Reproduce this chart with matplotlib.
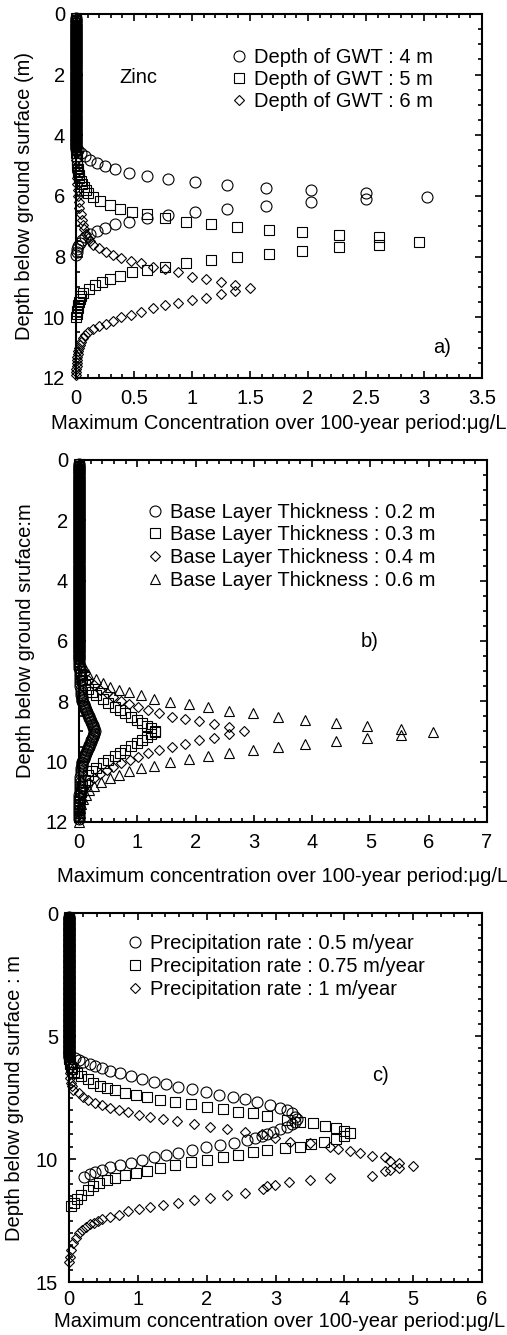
import matplotlib
matplotlib.use('Agg')
import matplotlib.pyplot as plt
from matplotlib.ticker import MultipleLocator, FormatStrFormatter

plt.rcParams['font.family'] = ['Liberation Sans', 'DejaVu Sans']
plt.rcParams['font.size'] = 14.5

# near-surface depths where every profile sits at zero concentration (m)
surface_depth = [0.15, 0.2, 0.25, 0.3, 0.35, 0.4, 0.45, 0.5, 0.55, 0.6, 0.65, 0.7,
                 0.75, 0.8, 0.85, 0.9, 0.95, 1.0, 1.05, 1.1, 1.15, 1.2, 1.25, 1.3,
                 1.35, 1.4, 1.45, 1.5, 1.55, 1.6, 1.65, 1.7, 1.75, 1.8, 1.85, 1.9,
                 1.95, 2.0, 2.05, 2.1, 2.15, 2.2, 2.25, 2.3, 2.35, 2.4, 2.45, 2.5,
                 2.55, 2.6, 2.65, 2.7, 2.75, 2.8, 2.85, 2.9, 2.95, 3.0, 3.05, 3.1,
                 3.15, 3.2, 3.25, 3.3, 3.35, 3.4, 3.45, 3.5, 3.55, 3.6, 3.65, 3.7,
                 3.75, 3.8, 3.85, 3.9, 3.95, 4.0, 4.05, 4.1, 4.15, 4.2, 4.25, 4.3,
                 4.35, 4.4, 4.45, 4.5, 4.55, 4.6, 4.65, 4.7, 4.75, 4.8, 4.85, 4.9,
                 4.95, 5.0, 5.05, 5.1, 5.15, 5.2, 5.25, 5.3, 5.35, 5.4, 5.45, 5.5,
                 5.55, 5.6, 5.65, 5.7, 5.75, 5.8, 5.85, 5.9, 5.95, 6.0, 6.05, 6.1,
                 6.15, 6.2, 6.25, 6.3, 6.35, 6.4, 6.45, 6.5, 6.55]

# a) depth of ground water table
gwt4_depth = [4.5, 4.6, 4.7, 4.81, 4.92, 5.03, 5.12, 5.23, 5.34, 5.43, 5.53, 5.64,
              5.73, 5.81, 5.89, 6.04, 6.11, 6.19, 6.32, 6.43, 6.52, 6.63, 6.72,
              6.85, 6.93, 7.07, 7.15, 7.26, 7.36, 7.46, 7.56, 7.66, 7.76, 7.86, 7.96]
gwt4_conc = [0.02, 0.045, 0.078, 0.12, 0.18, 0.25, 0.34, 0.46, 0.61, 0.79, 1.03, 1.30,
             1.64, 2.03, 2.50, 3.03, 2.50, 2.03, 1.64, 1.30, 1.03, 0.79, 0.61,
             0.46, 0.34, 0.25, 0.18, 0.12, 0.08, 0.05, 0.035, 0.02, 0.012, 0.006, 0.0]
gwt5_depth = [4.6, 4.7, 4.8, 4.9, 5.0, 5.1, 5.2, 5.3, 5.4, 5.5, 5.6, 5.7, 5.8,
              5.91, 6.02, 6.17, 6.30, 6.43, 6.52, 6.61, 6.74, 6.85, 6.93, 7.03, 7.12,
              7.18, 7.29, 7.36, 7.53, 7.62, 7.69, 7.80, 7.92, 8.03, 8.11, 8.22, 8.33,
              8.44, 8.50, 8.63, 8.74, 8.83, 8.93, 9.07, 9.21, 9.3, 9.4, 9.5, 9.6,
              9.7, 9.8, 9.9, 10.0]
gwt5_conc = [0.0, 0.005, 0.005, 0.01, 0.01, 0.015, 0.02, 0.025, 0.03, 0.04, 0.05, 0.065, 0.085,
             0.106, 0.15, 0.21, 0.29, 0.38, 0.48, 0.61, 0.77, 0.95, 1.16, 1.39, 1.66,
             1.95, 2.27, 2.61, 2.96, 2.61, 2.27, 1.95, 1.66, 1.39, 1.16, 0.95, 0.77,
             0.61, 0.48, 0.38, 0.29, 0.22, 0.16, 0.11, 0.06, 0.045, 0.035, 0.025, 0.02,
             0.015, 0.01, 0.005, 0.0]
gwt6_depth = [4.6, 4.8, 5.0, 5.2, 5.4, 5.6, 5.8, 6.0, 6.2, 6.4, 6.6, 6.8, 6.95, 7.1,
              7.25, 7.38, 7.5, 7.62, 7.73, 7.86, 7.95, 8.06, 8.14, 8.20, 8.33, 8.41,
              8.50, 8.66, 8.74, 8.83, 8.93, 9.04, 9.15, 9.22, 9.35, 9.42, 9.53, 9.61,
              9.70, 9.82, 9.91, 10.0, 10.13, 10.22, 10.29, 10.4, 10.5, 10.6, 10.7,
              10.8, 10.9, 11.0, 11.1, 11.2, 11.3, 11.4, 11.5, 11.6, 11.7, 11.8, 11.9]
gwt6_conc = [0.0, 0.0, 0.005, 0.005, 0.01, 0.01, 0.015, 0.02, 0.025, 0.03, 0.04, 0.05, 0.06, 0.07,
             0.085, 0.1, 0.12, 0.15, 0.20, 0.26, 0.32, 0.39, 0.47, 0.56, 0.66, 0.77,
             0.88, 1.00, 1.12, 1.25, 1.37, 1.50, 1.37, 1.25, 1.12, 1.00, 0.88, 0.77,
             0.66, 0.56, 0.47, 0.39, 0.32, 0.26, 0.20, 0.15, 0.10, 0.075, 0.06,
             0.045, 0.035, 0.03, 0.02, 0.015, 0.01, 0.01, 0.005, 0.005, 0.0, 0.0, 0.0]

# b) base layer thickness
base02_depth = [6.6, 6.7, 6.8, 6.9, 7.0, 7.1, 7.2, 7.3, 7.4, 7.5, 7.6, 7.7, 7.8,
                7.85, 7.9, 7.95, 8.0, 8.05, 8.1, 8.15, 8.2, 8.25, 8.3, 8.35, 8.4,
                8.45, 8.5, 8.55, 8.6, 8.65, 8.7, 8.75, 8.8, 8.85, 8.9, 8.95, 9.0,
                9.05, 9.1, 9.15, 9.2, 9.25, 9.3, 9.35, 9.4, 9.45, 9.5, 9.55, 9.6,
                9.65, 9.7, 9.75, 9.8, 9.85, 9.9, 9.95, 10.0, 10.05, 10.1, 10.15, 10.2,
                10.3, 10.4, 10.5, 10.6, 10.7, 10.8, 10.9, 11.0, 11.1, 11.2, 11.3, 11.4,
                11.5, 11.6, 11.7, 11.8, 11.9]
base02_conc = [0.0, 0.0, 0.005, 0.005, 0.01, 0.01, 0.015, 0.015, 0.02, 0.025, 0.03, 0.035, 0.04,
               0.045, 0.05, 0.055, 0.06, 0.07, 0.08, 0.09, 0.10, 0.11, 0.12, 0.13, 0.14,
               0.15, 0.165, 0.18, 0.19, 0.20, 0.21, 0.22, 0.235, 0.245, 0.255, 0.265, 0.27,
               0.265, 0.255, 0.245, 0.235, 0.22, 0.21, 0.20, 0.19, 0.18, 0.165, 0.15, 0.14,
               0.13, 0.12, 0.11, 0.10, 0.09, 0.08, 0.07, 0.06, 0.055, 0.05, 0.045, 0.04,
               0.035, 0.03, 0.025, 0.02, 0.015, 0.015, 0.01, 0.01, 0.005, 0.005, 0.0, 0.0,
               0.0, 0.0, 0.0, 0.0, 0.0]
base03_depth = [6.65, 6.8, 7.0, 7.1, 7.3, 7.45, 7.6, 7.68, 7.79, 7.94, 8.05, 8.18, 8.29,
                8.40, 8.51, 8.62, 8.73, 8.82, 8.90, 8.97, 9.03, 9.10, 9.18, 9.27, 9.38,
                9.49, 9.60, 9.71, 9.82, 9.95, 10.06, 10.2, 10.3, 10.45, 10.6, 10.8,
                11.0, 11.2, 11.4, 11.6, 11.8]
base03_conc = [0.0, 0.005, 0.02, 0.03, 0.06, 0.10, 0.15, 0.22, 0.30, 0.42, 0.50, 0.61, 0.70,
               0.79, 0.89, 0.99, 1.08, 1.16, 1.24, 1.31, 1.31, 1.24, 1.16, 1.08, 0.99,
               0.89, 0.79, 0.70, 0.61, 0.50, 0.42, 0.30, 0.22, 0.15, 0.10, 0.06,
               0.03, 0.015, 0.005, 0.0, 0.0]
base04_depth = [6.65, 6.85, 7.05, 7.28, 7.45, 7.61, 7.74, 7.87, 7.99, 8.09, 8.18, 8.29,
                8.40, 8.51, 8.60, 8.66, 8.75, 8.86, 8.99, 9.10, 9.21, 9.29, 9.40, 9.51,
                9.60, 9.73, 9.84, 9.93, 10.06, 10.17, 10.28, 10.41, 10.55, 10.7, 10.93,
                11.1, 11.3, 11.5, 11.7, 11.9]
base04_conc = [0.0, 0.03, 0.10, 0.16, 0.26, 0.36, 0.48, 0.59, 0.72, 0.85, 1.01, 1.18,
               1.38, 1.59, 1.82, 2.06, 2.31, 2.57, 2.83, 2.57, 2.31, 2.06, 1.82, 1.59,
               1.38, 1.18, 1.02, 0.87, 0.72, 0.59, 0.48, 0.36, 0.26, 0.16, 0.09,
               0.05, 0.03, 0.015, 0.005, 0.0]
base06_depth = [6.65, 6.85, 7.08, 7.27, 7.41, 7.52, 7.63, 7.70, 7.79, 7.93, 8.01, 8.09,
                8.20, 8.31, 8.40, 8.51, 8.62, 8.71, 8.82, 8.92, 9.03, 9.12, 9.21, 9.32,
                9.42, 9.51, 9.62, 9.73, 9.82, 9.92, 10.01, 10.14, 10.22, 10.31, 10.44,
                10.55, 10.66, 10.8, 10.93, 11.1, 11.25, 11.4, 11.55, 11.7, 11.85, 12.0]
base06_conc = [0.0, 0.08, 0.16, 0.29, 0.42, 0.53, 0.68, 0.86, 1.07, 1.29, 1.56, 1.88,
               2.21, 2.58, 2.98, 3.41, 3.88, 4.41, 4.94, 5.52, 6.07, 5.52, 4.94, 4.41,
               3.88, 3.41, 2.98, 2.58, 2.21, 1.88, 1.56, 1.29, 1.07, 0.86, 0.68,
               0.53, 0.38, 0.26, 0.18, 0.12, 0.07, 0.04, 0.025, 0.015, 0.005, 0.0]

# c) precipitation rate
rain05_depth = [5.9, 5.97, 6.04, 6.14, 6.22, 6.31, 6.41, 6.52, 6.63, 6.75, 6.86, 6.95,
                7.06, 7.17, 7.28, 7.40, 7.49, 7.57, 7.67, 7.80, 7.94, 8.02, 8.14, 8.28,
                8.38, 8.48, 8.56, 8.69, 8.79, 8.89, 8.98, 9.07, 9.16, 9.23, 9.34, 9.43,
                9.53, 9.63, 9.74, 9.84, 9.93, 10.04, 10.15, 10.24, 10.32, 10.43, 10.53,
                10.62, 10.74]
rain05_conc = [0.08, 0.14, 0.21, 0.30, 0.38, 0.48, 0.60, 0.74, 0.90, 1.06, 1.23, 1.41,
               1.59, 1.78, 1.99, 2.18, 2.38, 2.56, 2.73, 2.92, 3.07, 3.16, 3.24, 3.28,
               3.31, 3.28, 3.24, 3.16, 3.07, 2.97, 2.87, 2.80, 2.70, 2.58, 2.39, 2.19,
               1.99, 1.78, 1.59, 1.41, 1.23, 1.06, 0.90, 0.74, 0.60, 0.48, 0.38,
               0.30, 0.22]
rain075_depth = [5.95, 6.05, 6.15, 6.25, 6.35, 6.45, 6.52, 6.63, 6.76, 6.90, 7.03, 7.13,
                 7.20, 7.30, 7.40, 7.49, 7.60, 7.67, 7.76, 7.87, 7.97, 8.08, 8.14, 8.25,
                 8.41, 8.48, 8.54, 8.66, 8.75, 8.86, 8.96, 9.08, 9.20, 9.30, 9.40, 9.50,
                 9.57, 9.63, 9.72, 9.84, 9.93, 10.04, 10.11, 10.24, 10.37, 10.47, 10.55,
                 10.64, 10.79, 10.86, 10.96, 11.1, 11.26, 11.46, 11.64, 11.8, 11.93]
rain075_conc = [0.0, 0.01, 0.02, 0.03, 0.05, 0.07, 0.12, 0.18, 0.27, 0.35, 0.45, 0.55,
                0.67, 0.81, 0.97, 1.14, 1.32, 1.54, 1.77, 2.00, 2.23, 2.46, 2.67, 2.88,
                3.16, 3.36, 3.55, 3.72, 3.88, 4.00, 4.08, 4.00, 3.88, 3.70, 3.52, 3.36,
                3.14, 2.88, 2.67, 2.46, 2.23, 2.00, 1.77, 1.54, 1.32, 1.14, 0.97,
                0.81, 0.67, 0.55, 0.44, 0.35, 0.27, 0.18, 0.11, 0.07, 0.03]
rain1_depth = [5.95, 6.1, 6.3, 6.5, 6.7, 6.9, 7.05, 7.20, 7.33, 7.47, 7.6, 7.71, 7.80,
               7.91, 8.01, 8.08, 8.21, 8.28, 8.38, 8.46, 8.58, 8.69, 8.78, 8.89, 9.0,
               9.16, 9.30, 9.36, 9.50, 9.61, 9.66, 9.77, 9.88, 9.93, 10.07, 10.15, 10.28,
               10.35, 10.45, 10.49, 10.69, 10.78, 10.84, 10.92, 11.06, 11.1, 11.2, 11.39,
               11.48, 11.6, 11.67, 11.78, 11.87, 11.96, 12.04, 12.13, 12.28, 12.35, 12.42,
               12.5, 12.6, 12.65, 12.75, 12.9, 13.0, 13.2, 13.4, 13.7, 14.0, 14.2]
rain1_conc = [0.0, 0.005, 0.01, 0.015, 0.02, 0.03, 0.04, 0.06, 0.14, 0.21, 0.28, 0.38, 0.48,
              0.60, 0.72, 0.86, 1.01, 1.17, 1.37, 1.57, 1.81, 2.05, 2.29, 2.56, 2.80,
              2.99, 3.21, 3.50, 3.79, 3.91, 4.08, 4.23, 4.40, 4.59, 4.67, 4.79, 5.00,
              4.79, 4.67, 4.59, 4.40, 3.79, 3.50, 3.20, 2.99, 2.87, 2.82, 2.56,
              2.29, 2.05, 1.81, 1.59, 1.37, 1.17, 1.01, 0.86, 0.72, 0.60, 0.48,
              0.42, 0.36, 0.30, 0.24, 0.19, 0.14, 0.10, 0.06, 0.03, 0.01, 0.0]


def add_profile(ax, column_end, depth, conc, marker, size, label):
    column = [d for d in surface_depth if d < column_end]
    ax.plot([0.0] * len(column) + conc, column + depth, linestyle='none',
            marker=marker, markersize=size, markerfacecolor='none',
            markeredgecolor='black', markeredgewidth=0.8, clip_on=False, label=label)


def format_axis(ax, xmax, xmajor, xminor, ymax, ymajor, yminor, xpad=8):
    ax.set_xlim(0, xmax)
    ax.set_ylim(ymax, 0)
    ax.xaxis.set_major_locator(MultipleLocator(xmajor))
    ax.xaxis.set_minor_locator(MultipleLocator(xminor))
    ax.yaxis.set_major_locator(MultipleLocator(ymajor))
    ax.yaxis.set_minor_locator(MultipleLocator(yminor))
    ax.xaxis.set_major_formatter(FormatStrFormatter('%g'))
    ax.tick_params(which='both', direction='in', top=True, right=True, width=1.2)
    ax.tick_params(which='major', length=5, pad=8)
    ax.tick_params(axis='x', which='major', pad=xpad)
    ax.tick_params(which='minor', length=3)
    for spine in ax.spines.values():
        spine.set_linewidth(1.5)


def legend(ax, x, y, spacing):
    ax.legend(loc='upper left', bbox_to_anchor=(x, y), frameon=False, borderpad=0,
              borderaxespad=0, handlelength=1.0, handletextpad=0.25, labelspacing=spacing)


fig = plt.figure(figsize=(5.07, 13.35), dpi=100)

ax_a = fig.add_axes([0.1499, 0.7169, 0.8008, 0.2727])
add_profile(ax_a, 4.5, gwt4_depth, gwt4_conc, 'o', 7.9, 'Depth of GWT : 4 m')
add_profile(ax_a, 4.5, gwt5_depth, gwt5_conc, 's', 7.2, 'Depth of GWT : 5 m')
add_profile(ax_a, 4.5, gwt6_depth, gwt6_conc, 'D', 5.1, 'Depth of GWT : 6 m')
format_axis(ax_a, 3.5, 0.5, 0.1, 12, 2, 0.5)
legend(ax_a, 0.377, 0.907, 0.15)
ax_a.text(0.37, 2.1, 'Zinc', ha='left', va='center')
ax_a.text(3.08, 11.0, 'a)', ha='left', va='center')
ax_a.set_xlabel('Maximum Concentration over 100-year period:\u03bcg/L', va='center')
ax_a.xaxis.set_label_coords(0.5, -0.126)
ax_a.set_ylabel('Depth below ground surface (m)', va='center')
ax_a.yaxis.set_label_coords(-0.126, 0.5)

ax_b = fig.add_axes([0.1558, 0.3843, 0.8047, 0.2712])
add_profile(ax_b, 6.6, base02_depth, base02_conc, 'o', 7.9, 'Base Layer Thickness : 0.2 m')
add_profile(ax_b, 6.6, base03_depth, base03_conc, 's', 7.2, 'Base Layer Thickness : 0.3 m')
add_profile(ax_b, 6.6, base04_depth, base04_conc, 'D', 5.1, 'Base Layer Thickness : 0.4 m')
add_profile(ax_b, 6.6, base06_depth, base06_conc, '^', 7.2, 'Base Layer Thickness : 0.6 m')
format_axis(ax_b, 7, 1, 0.2, 12, 2, 0.5)
legend(ax_b, 0.162, 0.882, 0.19)
ax_b.text(4.83, 6.03, 'b)', ha='left', va='center')
ax_b.set_xlabel('Maximum concentration over 100-year period:\u03bcg/L', va='center')
ax_b.xaxis.set_label_coords(0.5, -0.151)
ax_b.set_ylabel('Depth below ground sruface:m', va='center')
ax_b.yaxis.set_label_coords(-0.132, 0.5)

ax_c = fig.add_axes([0.1361, 0.0397, 0.8146, 0.2764])
add_profile(ax_c, 5.9, rain05_depth, rain05_conc, 'o', 7.9, 'Precipitation rate : 0.5 m/year')
add_profile(ax_c, 5.9, rain075_depth, rain075_conc, 's', 7.2, 'Precipitation rate : 0.75 m/year')
add_profile(ax_c, 5.9, rain1_depth, rain1_conc, 'D', 5.1, 'Precipitation rate : 1 m/year')
format_axis(ax_c, 6, 1, 0.2, 15, 5, 0.5, xpad=6)
legend(ax_c, 0.136, 0.942, 0.19)
ax_c.text(4.40, 6.6, 'c)', ha='left', va='center')
ax_c.set_xlabel('Maximum concentration over 100-year period:\u03bcg/L', va='center')
ax_c.xaxis.set_label_coords(0.511, -0.107)
ax_c.set_ylabel('Depth below ground surface : m', va='center')
ax_c.yaxis.set_label_coords(-0.133, 0.5)

fig.savefig('out.png', dpi=100)
